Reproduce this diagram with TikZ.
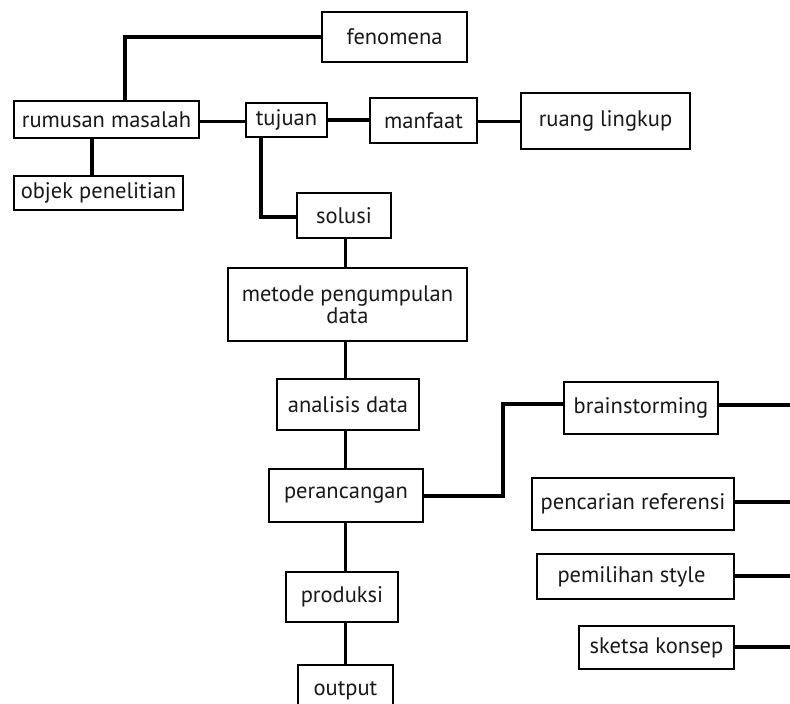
\documentclass[tikz,border=0pt]{standalone}
\usepackage{fontspec}
\setmainfont{PT Sans}
\begin{document}
\begin{tikzpicture}[x=1pt,y=-1pt,
  box/.style={draw=black, line width=1.7pt, fill=white, inner sep=0pt, align=center,
    font=\fontsize{22.5}{25}\selectfont, text=black!90},
  thick line/.style={line width=4pt},
  mid line/.style={line width=3pt}]
\useasboundingbox (0,0) rectangle (790,704);
% nodes
\node[box, minimum width=145pt, minimum height=50pt] (fen) at (394.5,37) {fenomena};
\node[box, minimum width=185pt, minimum height=37pt] (rum) at (106.5,119.5) {rumusan masalah};
\node[box, minimum width=81pt, minimum height=34pt] (tuj) at (286.5,120) {tujuan};
\node[box, minimum width=107pt, minimum height=45pt] (man) at (423.5,120.5) {manfaat};
\node[box, minimum width=169pt, minimum height=56pt] (rua) at (605.5,121) {ruang lingkup};
\node[box, minimum width=169pt, minimum height=34pt] (obj) at (98.5,193) {objek penelitian};
\node[box, minimum width=94pt, minimum height=45pt] (sol) at (344,215.5) {solusi};
\node[box, minimum width=239pt, minimum height=73pt] (met) at (347.5,304.5) {metode pengumpulan\\[-3pt]data};
\node[box, minimum width=142pt, minimum height=51pt] (ana) at (348,404.5) {analisis data};
\node[box, minimum width=154pt, minimum height=53pt] (per) at (346,495.5) {perancangan};
\node[box, minimum width=112pt, minimum height=50pt] (pro) at (342,597) {produksi};
\node[box, minimum width=95pt, minimum height=52pt] (out) at (345.5,691) {output};
\node[box, minimum width=154pt, minimum height=52pt] (bra) at (641,408) {brainstorming};
\node[box, minimum width=202pt, minimum height=52pt] (pen) at (633,504) {pencarian referensi};
\node[box, minimum width=197pt, minimum height=45pt] (pem) at (635.5,576.5) {pemilihan style\hspace{8pt}};
\node[box, minimum width=155pt, minimum height=43pt] (ske) at (656.5,647.5) {sketsa konsep};
% free ends
\coordinate (e1) at (790,405);
\coordinate (e2) at (790,502);
\coordinate (e3) at (790,576);
\coordinate (e4) at (790,647);
% connectors
\draw[thick line] (fen.west) -| (rum.north -| 125,0);
\draw[mid line] (rum.east |- 0,121) -- (tuj.west |- 0,121);
\draw[thick line] (tuj.east |- 0,120) -- (man.west |- 0,120);
\draw[mid line] (man.east |- 0,121) -- (rua.west |- 0,121);
\draw[thick line] (rum.south -| 92,0) -- (obj.north -| 92,0);
\draw[thick line] (tuj.south -| 261,0) |- (sol.west |- 0,217);
\draw[mid line] (sol.south -| 345,0) -- (met.north -| 345,0);
\draw[mid line] (met.south -| 345,0) -- (ana.north -| 345,0);
\draw[mid line] (ana.south -| 345,0) -- (per.north -| 345,0);
\draw[mid line] (per.south -| 345,0) -- (pro.north -| 345,0);
\draw[mid line] (pro.south -| 345,0) -- (out.north -| 345,0);
\draw[thick line] (per.east) -- (503,495.5) |- (bra.west |- 0,404);
\draw[thick line] (bra.east |- e1) -- (e1);
\draw[thick line] (pen.east |- e2) -- (e2);
\draw[thick line] (pem.east |- e3) -- (e3);
\draw[thick line] (ske.east |- e4) -- (e4);
\end{tikzpicture}
\end{document}
